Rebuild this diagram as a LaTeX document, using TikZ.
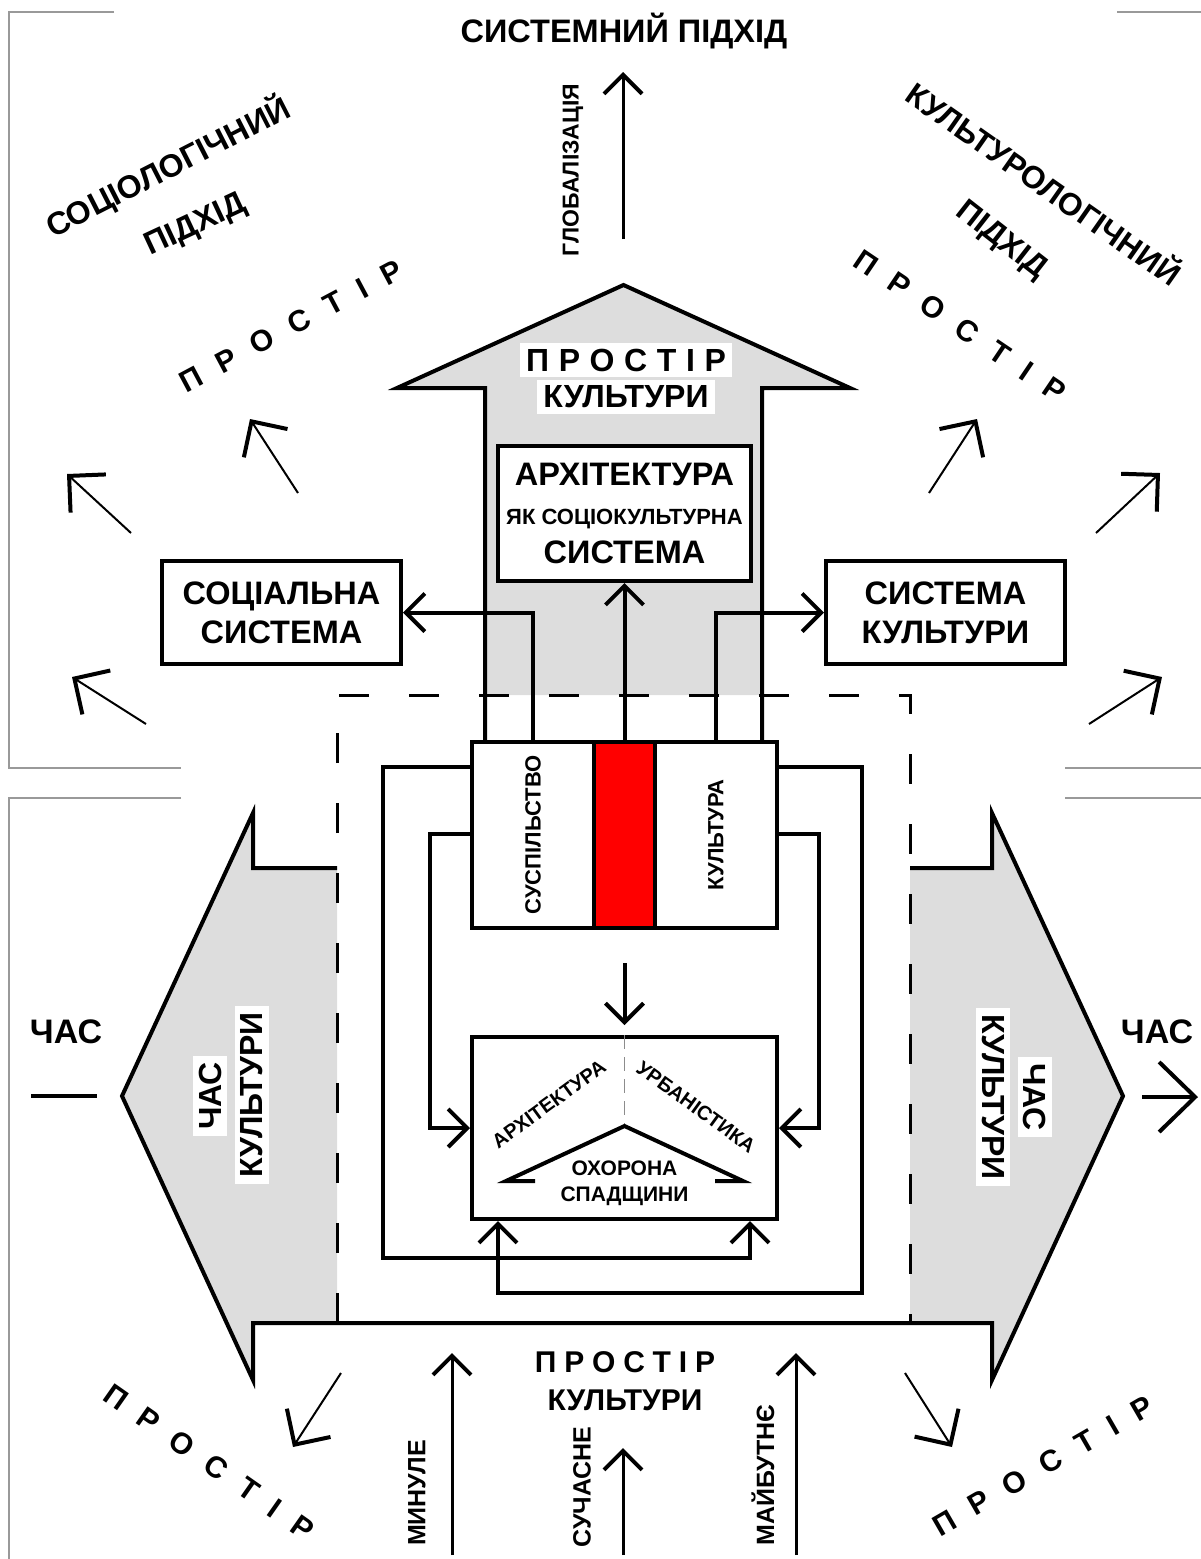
\documentclass[tikz,border=0pt]{standalone}
\usepackage{fontspec}
\setmainfont{Liberation Sans}
\usetikzlibrary{arrows.meta}
\definecolor{lightfill}{HTML}{DDDDDD}
\newcommand{\fsz}[1]{\fontsize{#1}{1.2\dimexpr#1pt\relax}\selectfont\bfseries}
\newcommand{\prostir}[1]{П\hspace{#1}Р\hspace{#1}О\hspace{#1}С\hspace{#1}Т\hspace{#1}І\hspace{#1}Р}
\begin{document}
\begin{tikzpicture}[x=1pt,y=-1pt]
\tikzstyle{box}=[draw,line width=4pt,fill=white,align=center,inner sep=0pt]
\tikzstyle{conn}=[line width=4pt,-{Straight Barb[length=19pt,width=38pt]}]
\tikzstyle{thinconn}=[line width=3pt,-{Straight Barb[length=19pt,width=38pt,line width=4pt]}]
\tikzstyle{ray}=[line width=2pt,-{Straight Barb[length=26pt,width=52pt,line width=4pt]}]
\tikzstyle{framing}=[black!40,line width=1.2pt]
\tikzstyle{dashbox}=[line width=3pt,dash pattern=on 30pt off 40pt]
\tikzstyle{onwhite}=[fill=white,inner xsep=6pt,inner ysep=6pt]
\useasboundingbox (0,0) rectangle (1201,1559);

% thin frames
\draw[framing] (114,12) -- (9,12) -- (9,768) -- (181,768);
\draw[framing] (1117,12) -- (1201,12);
\draw[framing] (181,798) -- (9,798) -- (9,1559);
\draw[framing] (1065,768) -- (1201,768);
\draw[framing] (1065,798) -- (1201,798);

% grey arrows
\fill[lightfill] (485,695) -- (485,388) -- (397,388) -- (623.5,285) -- (850,388) -- (762,388) -- (762,695) -- cycle;
\fill[lightfill] (337,868) -- (253,868) -- (253,813) -- (122,1096) -- (253,1380) -- (253,1323) -- (337,1323) -- cycle;
\fill[lightfill] (910,868) -- (992,868) -- (992,813) -- (1123,1096) -- (992,1380) -- (992,1323) -- (910,1323) -- cycle;
\draw[dashbox] (337,1323) -- (337,695) -- (910,695) -- (910,1323);
\draw[line width=4pt] (485,742) -- (485,388) -- (397,388) -- (623.5,285) -- (850,388) -- (762,388) -- (762,742);
\draw[line width=4pt] (337,868) -- (253,868) -- (253,813) -- (122,1096) -- (253,1380) -- (253,1323)
    -- (992,1323) -- (992,1380) -- (1123,1096) -- (992,813) -- (992,868) -- (910,868);

% boxes
\node[box,minimum width=239pt,minimum height=103pt,font=\fsz{32.5}] (soc) at (281.5,612.5) {СОЦІАЛЬНА\\СИСТЕМА};
\node[box,minimum width=239pt,minimum height=103pt,font=\fsz{32.5}] (cult) at (945.5,612.5) {СИСТЕМА\\КУЛЬТУРИ};
\node[box,minimum width=253pt,minimum height=135pt,font=\fsz{32.5}] (arch) at (624.5,513.5)
    {АРХІТЕКТУРА\\{\fsz{22}ЯК СОЦІОКУЛЬТУРНА}\\СИСТЕМА};
\node[box,minimum width=122pt,minimum height=186pt] (soci) at (533,835) {};
\node[box,fill=red,minimum width=61pt,minimum height=186pt] (redband) at (624.5,835) {};
\node[box,minimum width=122pt,minimum height=186pt] (cultr) at (716,835) {};
\node[rotate=90,font=\fsz{22}] (socitxt) at (soci) {СУСПІЛЬСТВО};
\node[rotate=90,font=\fsz{22}] (cultrtxt) at (cultr) {КУЛЬТУРА};
\node[box,minimum width=305pt,minimum height=182pt] (heri) at (624.5,1128) {};

% inside heritage box
\coordinate (roof) at (624.5,1126);
\draw[black!45,line width=1pt,dash pattern=on 14pt off 8pt] (heri.north) -- (roof);
\draw[line width=4pt] (535,1181) -- (506,1181) -- (roof) -- (743,1181) -- (715,1181);
\node[rotate=36,font=\fsz{20}] (archtxt) at (549,1104) {АРХІТЕКТУРА};
\node[rotate=-36,font=\fsz{20}] (urbtxt) at (696,1107) {УРБАНІСТИКА};
\node[font=\fsz{21}] (ohor) at (624.5,1168) {ОХОРОНА};
\node[font=\fsz{21}] (spad) at (624.5,1196) {СПАДЩИНИ};

% connectors
\draw[conn] (soci.north) |- (soc.east);
\draw[conn] (cultr.north) |- (cult.west);
\draw[conn] (redband.north) -- (arch.south);
\draw[conn] ([yshift=-94pt]soci.north west) -| (430,1128) -- (heri.west);
\draw[conn] ([yshift=-94pt]cultr.north east) -| (819,1128) -- (heri.east);
\draw[conn] ([yshift=-27pt]soci.north west) -| (383,1258) -| ([xshift=-29pt]heri.south east);
\draw[conn] ([yshift=-27pt]cultr.north east) -| (862,1293) -| ([xshift=28pt]heri.south west);
\coordinate (downstart) at (624.5,963);
\draw[conn,shorten >=10pt] (downstart) -- (heri.north);

% labels on the grey arrows
\node[onwhite,font=\fsz{32}] (prup) at (626,360) {\prostir{0.3em}};
\node[onwhite,font=\fsz{32}] (kuup) at (626,397) {КУЛЬТУРИ};
\node[onwhite,rotate=90,font=\fsz{32}] (chasl) at (210,1096) {ЧАС};
\node[onwhite,rotate=90,font=\fsz{32}] (kul) at (252,1095) {КУЛЬТУРИ};
\node[onwhite,rotate=-90,font=\fsz{32}] (chasr) at (1035,1097) {ЧАС};
\node[onwhite,rotate=-90,font=\fsz{32}] (kur) at (993,1097) {КУЛЬТУРИ};
\node[font=\fsz{30}] (prdown) at (625,1362) {\prostir{0.26em}};
\node[font=\fsz{30}] (kudown) at (625,1400) {КУЛЬТУРИ};

% top texts
\node[font=\fsz{32.5}] (title) at (624,31) {СИСТЕМНИЙ ПІДХІД};
\node[rotate=90,font=\fsz{23}] (glob) at (573,170) {ГЛОБАЛІЗАЦІЯ};
\draw[thinconn] (623,239) coordinate (glob0) -- (623,72) coordinate (glob1);
\node[rotate=27,font=\fsz{32}] (soclog) at (168,167) {СОЦІОЛОГІЧНИЙ};
\node[rotate=25,font=\fsz{32}] (socpid) at (196,226) {ПІДХІД};
\node[rotate=-35,font=\fsz{31.5}] (cultlog) at (1045,182) {КУЛЬТУРОЛОГІЧНИЙ};
\node[rotate=-38,font=\fsz{31.5}] (cultpid) at (1001,241) {ПІДХІД};

% space around
\node[rotate=28,font=\fsz{30}] (prtl) at (291,326) {\prostir{0.64em}};
\node[rotate=-34,font=\fsz{30}] (prtr) at (960,326) {\prostir{0.64em}};
\node[rotate=-35,font=\fsz{30}] (prbl) at (209,1462) {\prostir{0.64em}};
\node[rotate=30,font=\fsz{30}] (prbr) at (1043,1466) {\prostir{0.64em}};
\draw[ray] (131,533) coordinate (ra0) -- (67,474) coordinate (ra1);
\draw[ray] (298,493) coordinate (rb0) -- (250,419) coordinate (rb1);
\draw[ray] (146,724) coordinate (rc0) -- (72,677) coordinate (rc1);
\draw[ray] (929,493) coordinate (rd0) -- (977,419) coordinate (rd1);
\draw[ray] (1096,533) coordinate (re0) -- (1160,473) coordinate (re1);
\draw[ray] (1089,724) coordinate (rf0) -- (1162,677) coordinate (rf1);
\draw[ray] (341,1373) coordinate (rg0) -- (293,1447) coordinate (rg1);
\draw[ray] (905,1373) coordinate (rh0) -- (952,1447) coordinate (rh1);

% time
\node[font=\fsz{34}] (timel) at (66,1032) {ЧАС};
\node[font=\fsz{34}] (timer) at (1157,1032) {ЧАС};
\draw[line width=4pt] (31,1096) coordinate (tl0) -- (97,1096) coordinate (tl1);
\draw[line width=4pt,-{Straight Barb[length=36pt,width=70pt]}] (1142,1097) coordinate (tr0) -- (1198,1097) coordinate (tr1);

% past, present, future
\draw[thinconn] (452,1555) coordinate (past0) -- (452,1353) coordinate (past1);
\draw[thinconn] (623,1555) coordinate (pres0) -- (623,1448) coordinate (pres1);
\draw[thinconn] (796,1555) coordinate (fut0) -- (796,1353) coordinate (fut1);
\node[rotate=90,font=\fsz{25}] (past) at (417,1493) {МИНУЛЕ};
\node[rotate=90,font=\fsz{25}] (pres) at (582,1487) {СУЧАСНЕ};
\node[rotate=90,font=\fsz{25}] (fut) at (763,1475) {МАЙБУТНЄ};
\end{tikzpicture}
\end{document}
